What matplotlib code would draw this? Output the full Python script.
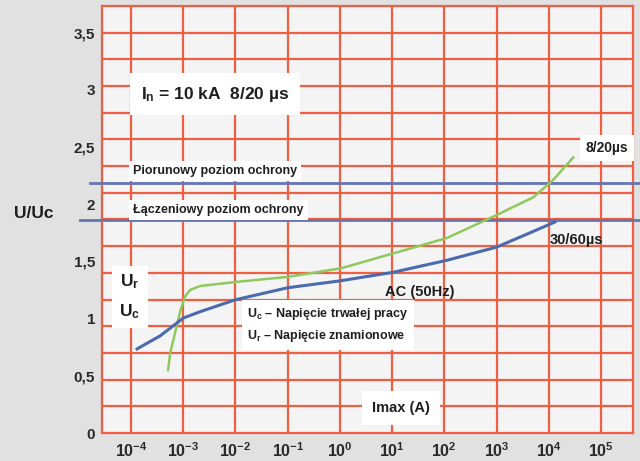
import matplotlib.pyplot as plt
import numpy as np

plt.rcParams['font.family'] = ['Liberation Sans', 'DejaVu Sans']
plt.rcParams['font.weight'] = 'bold'
plt.rcParams['mathtext.fontset'] = 'custom'
plt.rcParams['mathtext.rm'] = 'Liberation Sans:bold'
plt.rcParams['mathtext.bf'] = 'Liberation Sans:bold'
plt.rcParams['mathtext.it'] = 'Liberation Sans:bold'

# 8/20 us curve (green)
imax_820 = [10**-3.29, 10**-3.25, 10**-3.16, 10**-3.06, 10**-2.97, 10**-2.87, 10**-2.68,
            10**-2.0, 10**-1.0, 10**0.02, 10**1.02, 10**2.05, 10**3.0, 10**3.7, 10**4.08, 10**4.47]
u_820 = [0.55, 0.70, 0.87, 1.06, 1.19, 1.25, 1.285, 1.32, 1.365, 1.44, 1.57, 1.705, 1.905, 2.06, 2.21, 2.41]

# 30/60 us / AC curve (blue)
imax_ac = [10**-3.885, 10**-3.44, 10**-3.0, 10**-2.68, 10**-2.0, 10**-1.0, 10**0.0,
           10**1.02, 10**2.05, 10**3.0, 10**3.64, 10**4.12]
u_ac = [0.735, 0.85, 1.005, 1.06, 1.165, 1.27, 1.33, 1.405, 1.51, 1.625, 1.75, 1.845]

# protection levels
lightning_level = 2.185
switching_level = 1.862

y_ticks = [0, 0.5, 1, 1.5, 2, 2.5, 3, 3.5]
y_labels = ['0', '0,5', '1', '1,5', '2', '2,5', '3', '3,5']
x_decades = [-4, -3, -2, -1, 0, 1, 2, 3, 4, 5]

W, H = 640, 461
fig = plt.figure(figsize=(6.4, 4.61), dpi=100, facecolor='#e1e1e1')

def fx(x):
    return x / W

def fy(y):
    return 1 - y / H

ax = fig.add_axes([fx(102), fy(433), fx(633) - fx(102), fy(6) - fy(433)])
ax.set_facecolor('#f4f4f4')
ax.set_xscale('log')
ax.set_xlim(10**-4.556, 10**5.613)
ax.set_ylim(0, 3.733)

red = '#f15f42'
# grid
for d in x_decades:
    ax.axvline(10**d, color=red, lw=1.6, zorder=1)
for k in range(1, 16):
    ax.axhline(k * 3.733 / 16, color=red, lw=1.6, zorder=1)
for s in ax.spines.values():
    s.set_color(red)
    s.set_linewidth(1.6)

ax.set_yticks(y_ticks)
ax.set_yticklabels(y_labels)
ax.set_xticks([10.0**d for d in x_decades])
ax.set_xticklabels([r'$10^{%d}$' % d for d in x_decades])
ax.minorticks_off()
ax.tick_params(length=0, colors='#2a2a2a')
ax.tick_params(axis='y', labelsize=11, pad=5)
ax.tick_params(axis='x', labelsize=11.5, pad=6)
for t in ax.get_yticklabels() + ax.get_xticklabels():
    t.set_fontweight('bold')

# protection level lines extending beyond the axes
tr = ax.get_yaxis_transform()
ax.plot([-0.023, 1.02], [lightning_level] * 2, transform=tr, color='#6674b4', lw=2, clip_on=False, zorder=3)
ax.plot([-0.041, 1.02], [switching_level] * 2, transform=tr, color='#6674b4', lw=2, clip_on=False, zorder=3)

# curves
ax.plot(imax_820, u_820, color='#8ec95e', lw=1.8, zorder=4)
ax.plot(imax_ac, u_ac, color='#4a6aae', lw=2.2, zorder=4)

# annotations
dark = '#1e1e1e'
fig.text(fx(215), fy(94), r'$\mathbf{I_n}$ = 10 kA  8/20 µs', ha='center', va='center',
         fontsize=12.5, color=dark, bbox=dict(facecolor='white', edgecolor='none', pad=8))
fig.text(fx(133), fy(171), 'Piorunowy poziom ochrony', ha='left', va='center',
         fontsize=9, color=dark, bbox=dict(facecolor='white', edgecolor='none', pad=3))
fig.text(fx(133), fy(210), 'Łączeniowy poziom ochrony', ha='left', va='center',
         fontsize=9, color=dark, bbox=dict(facecolor='white', edgecolor='none', pad=3))
fig.text(fx(34), fy(214), 'U/Uc', ha='center', va='center', fontsize=12.5, color=dark)
fig.text(fx(130), fy(297), 'U$_\\mathbf{r}$\n\nU$_\\mathbf{c}$', ha='center', va='center',
         fontsize=12.5, color=dark, linespacing=0.85,
         bbox=dict(facecolor='white', edgecolor='none', pad=5))
fig.text(fx(247), fy(325), 'U$_c$ – Napięcie trwałej pracy\nU$_r$ – Napięcie znamionowe',
         ha='left', va='center', fontsize=9, color=dark, linespacing=1.55,
         bbox=dict(facecolor='white', edgecolor='none', pad=4))
fig.text(fx(420), fy(292), 'AC (50Hz)', ha='center', va='center', fontsize=10.5, color=dark)
fig.text(fx(576), fy(240), '30/60µs', ha='center', va='center', fontsize=10.5, color=dark)
fig.text(fx(607), fy(148), '8/20µs', ha='center', va='center', fontsize=10, color=dark,
         bbox=dict(facecolor='white', edgecolor='none', pad=4))
fig.text(fx(401), fy(408), 'Imax (A)', ha='center', va='center', fontsize=10.5, color=dark,
         bbox=dict(facecolor='white', edgecolor='none', pad=7))

fig.savefig('out.png', dpi=100, facecolor=fig.get_facecolor())
